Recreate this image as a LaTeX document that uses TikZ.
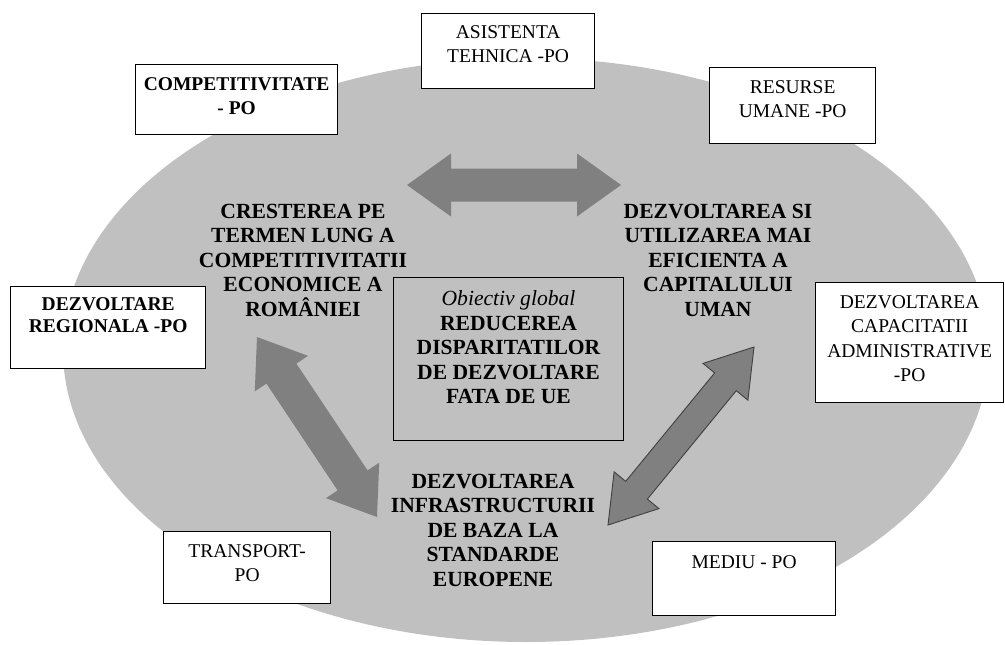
\documentclass[tikz,border=0pt]{standalone}
\usepackage{fontspec}
\setmainfont{Liberation Serif}
\usetikzlibrary{calc}
\definecolor{ellgray}{HTML}{C0C0C0}
\definecolor{arrgray}{HTML}{808080}
\definecolor{arrline}{HTML}{404040}
\newcommand\fsz{\fontsize{19.5pt}{24.2pt}\selectfont}
\newcommand\fbig{\fontsize{21.6pt}{24.5pt}\selectfont}
\newcommand\pbx[4]{\parbox[t][#2][t]{#1}{\centering\rule{0pt}{#3}#4}}
% #1 style, #2 tip a, #3 tip b, #4 shaft half width, #5 head half width, #6 head length
\newcommand\blockarrow[6]{%
  \coordinate (#2-ha) at ($(#2)!#6!(#3)$);
  \coordinate (#2-hb) at ($(#3)!#6!(#2)$);
  \path[#1] (#2) -- ($(#2-ha)!#5!90:(#3)$) -- ($(#2-ha)!#4!90:(#3)$)
    -- ($(#2-hb)!#4!-90:(#2)$) -- ($(#2-hb)!#5!-90:(#2)$) -- (#3)
    -- ($(#2-hb)!#5!90:(#2)$) -- ($(#2-hb)!#4!90:(#2)$)
    -- ($(#2-ha)!#4!-90:(#3)$) -- ($(#2-ha)!#5!-90:(#3)$) -- cycle;}
\tikzset{
  every node/.style={font=\fsz},
  pobox/.style={draw=black, line width=1.3pt, fill=white, inner sep=0pt, anchor=north west},
  midbox/.style={draw=black, line width=1pt, inner sep=0pt, anchor=north west, font=\fbig},
  goal/.style={inner sep=0pt, anchor=base, font=\fbig\bfseries},
  flatarrow/.style={fill=arrgray},
  edgearrow/.style={fill=arrgray, draw=arrline, line width=0.9pt, line join=miter},
}
\begin{document}
\begin{tikzpicture}[x=1pt, y=-1pt]
\useasboundingbox (0,0) rectangle (1005,645);
% background ellipse
\fill[ellgray] (526,350) ellipse [x radius=463, y radius=292];

% tips of the block arrows
\coordinate (hl) at (407,185);
\coordinate (hr) at (621,185);
\coordinate (ll) at (257,337);
\coordinate (lr) at (377,517);
\coordinate (rl) at (608,525);
\coordinate (rr) at (754,347);
\blockarrow{flatarrow}{hl}{hr}{16.5pt}{31.5pt}{44pt}
\blockarrow{flatarrow}{ll}{lr}{18pt}{32pt}{44pt}
\blockarrow{edgearrow}{rl}{rr}{14pt}{29pt}{45pt}

% operational programme boxes
\node[pobox] (asist) at (421,13) {\pbx{173pt}{75pt}{25pt}{ASISTENTA\\TEHNICA -PO}};
\node[pobox] (compet) at (135,64) {\pbx{202pt}{70pt}{26pt}{\bfseries COMPETITIVITATE\\- PO}};
\node[pobox] (resurse) at (709,67) {\pbx{166pt}{76pt}{26pt}{RESURSE\\UMANE -PO}};
\node[pobox] (regio) at (10,286) {\pbx{195pt}{82pt}{24pt}{\bfseries DEZVOLTARE\\[-2pt]REGIONALA -PO}};
\node[pobox] (admin) at (815,282) {\pbx{188pt}{120pt}{26pt}{DEZVOLTAREA\\CAPACITATII\\ADMINISTRATIVE\\-PO}};
\node[pobox] (transp) at (163,531) {\pbx{167pt}{72pt}{26pt}{TRANSPORT-\\PO}};
\node[pobox] (mediu) at (652,541) {\pbx{183pt}{74pt}{27pt}{MEDIU - PO}};

% central objective
\node[midbox] (obj) at (393,277) {\pbx{230pt}{163pt}{28pt}{\itshape Obiectiv global\\\bfseries\upshape REDUCEREA\\DISPARITATILOR\\DE DEZVOLTARE\\FATA DE UE}};

% strategic priorities
\node[goal] (crest) at (303,218) {\parbox[t]{260pt}{\centering CRESTEREA PE\\TERMEN LUNG A\\COMPETITIVITATII\\ECONOMICE A\\ROMÂNIEI}};
\node[goal] (uman) at (718,218) {\parbox[t]{260pt}{\centering DEZVOLTAREA SI\\UTILIZAREA MAI\\EFICIENTA A\\CAPITALULUI\\UMAN}};
\node[goal] (infra) at (493,488) {\parbox[t]{260pt}{\centering DEZVOLTAREA\\INFRASTRUCTURII\\DE BAZA LA\\STANDARDE\\EUROPENE}};
\end{tikzpicture}
\end{document}
